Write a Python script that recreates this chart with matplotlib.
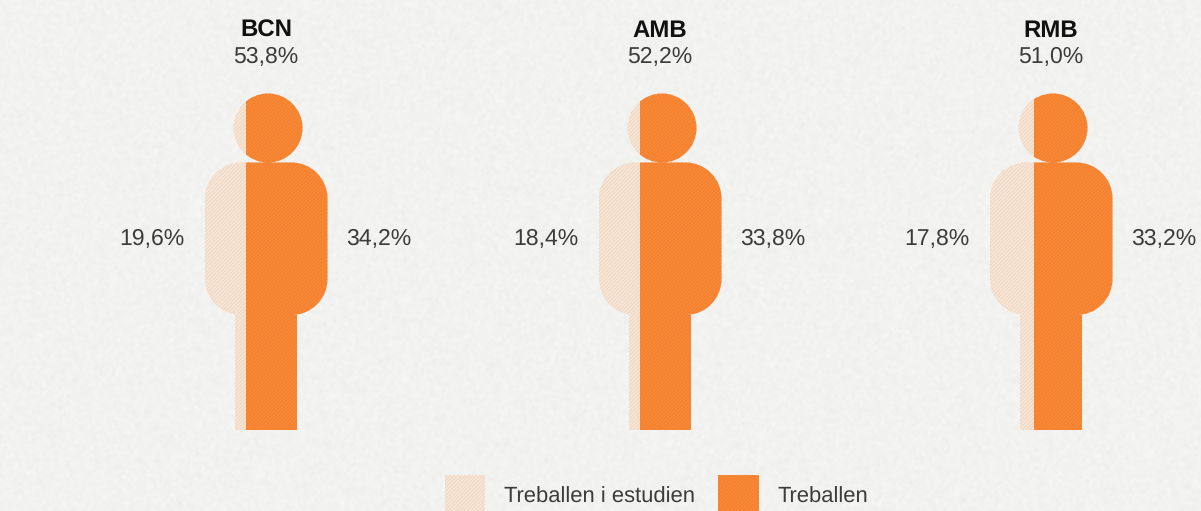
import numpy as np
import matplotlib
matplotlib.use("Agg")
import matplotlib.pyplot as plt
from matplotlib.patches import PathPatch, Rectangle
from matplotlib.path import Path

plt.rcParams['hatch.linewidth'] = 0.5
plt.rcParams['font.family'] = ['Liberation Sans', 'DejaVu Sans']
plt.rcParams['text.hinting'] = 'no_hinting'
plt.rcParams['text.hinting_factor'] = 1

# Data
regions = ['BCN', 'AMB', 'RMB']
total = ['53,8%', '52,2%', '51,0%']
study_work = ['19,6%', '18,4%', '17,8%']
work = ['34,2%', '33,8%', '33,2%']
legend_labels = ['Treballen i estudien', 'Treballen']

# Layout of pictograms (pixels of a 1201x511 canvas)
centers = [268, 662, 1053]
splits = [245.5, 640, 1034]

BG = '#F2F2F0'
ORANGE = '#F5812D'
ORANGE_H = '#F98F45'
PALE = '#F6E6D8'
PALE_H = '#F0CFB2'
TEXT = '#3C3C3C'

fig = plt.figure(figsize=(12.01, 5.11), dpi=100, facecolor=BG)
ax = fig.add_axes([0, 0, 1, 1])
ax.set_xlim(0, 1201)
ax.set_ylim(511, 0)
ax.axis('off')


def paper_texture(w=1201, h=511):
    """Faint paper mottling from a deterministic hash; decoration only."""
    yy, xx = np.mgrid[0:h, 0:w]
    s = np.sin(xx * 12.9898 + yy * 78.233) * 43758.5453
    n = s - np.floor(s) - 0.5
    out = np.zeros_like(n)
    for k, amp in ((1, 4.0), (2, 6.0)):
        b = n.copy()
        for axis in (0, 1):
            b = sum(np.roll(b, d, axis=axis) for d in range(-k, k + 1)) / (2 * k + 1)
        out += amp * b * np.sqrt(2 * k + 1)
    base = np.array([242, 242, 240], dtype=float)
    return np.clip(base[None, None, :] + out[..., None], 0, 255).astype(np.uint8)


ax.imshow(paper_texture(), extent=(0, 1201, 511, 0), aspect='auto', zorder=0,
          interpolation='nearest')
ax.set_xlim(0, 1201)
ax.set_ylim(511, 0)

K = 0.5523


def person(c):
    """Outline of head + body + legs centred on c."""
    v, code = [], []
    cx, cy, r = c, 128, 34.5
    v += [(cx, cy - r),
          (cx + K * r, cy - r), (cx + r, cy - K * r), (cx + r, cy),
          (cx + r, cy + K * r), (cx + K * r, cy + r), (cx, cy + r),
          (cx - K * r, cy + r), (cx - r, cy + K * r), (cx - r, cy),
          (cx - r, cy - K * r), (cx - K * r, cy - r), (cx, cy - r),
          (cx, cy - r)]
    code += [Path.MOVETO] + [Path.CURVE4] * 12 + [Path.CLOSEPOLY]
    L, R, T, B = c - 63, c + 59.5, 162.5, 315
    lL, lR, bot = c - 33, c + 29, 430
    rc = 36
    k = rc * (1 - K)
    v += [(L + rc, T), (R - rc, T),
          (R - k, T), (R, T + k), (R, T + rc),
          (R, B - rc),
          (R, B - k), (R - k, B), (R - rc, B),
          (lR, B), (lR, bot), (lL, bot), (lL, B),
          (L + rc, B),
          (L + k, B), (L, B - k), (L, B - rc),
          (L, T + rc),
          (L, T + k), (L + k, T), (L + rc, T),
          (L + rc, T)]
    code += [Path.MOVETO, Path.LINETO] + [Path.CURVE4] * 3 + [Path.LINETO] + \
            [Path.CURVE4] * 3 + [Path.LINETO] * 5 + [Path.CURVE4] * 3 + \
            [Path.LINETO] + [Path.CURVE4] * 3 + [Path.CLOSEPOLY]
    return Path(v, code)


def hatched_rect(x0, x1, y0, y1, fc, hc, clip=None):
    base = Rectangle((x0, y0), x1 - x0, y1 - y0, fc=fc, ec='none', lw=0, zorder=2)
    hat = Rectangle((x0, y0), x1 - x0, y1 - y0, fc='none', ec=hc, lw=0,
                    hatch='/////////', zorder=3)
    for p in (base, hat):
        ax.add_patch(p)
        if clip is not None:
            p.set_clip_path(clip)


for i, c in enumerate(centers):
    clip = PathPatch(person(c), transform=ax.transData, fc='none', ec='none')
    ax.add_patch(clip)
    hatched_rect(c - 70, splits[i], 85, 435, PALE, PALE_H, clip)
    hatched_rect(splits[i], c + 70, 85, 435, ORANGE, ORANGE_H, clip)

    ax.text(c - 2, 31, regions[i], ha='center', va='center', fontsize=17.5,
            fontweight='bold', color='#111111')
    ax.text(c - 2.5, 57, total[i], ha='center', va='center', fontsize=16.8, color=TEXT)
    ax.text(c - 84, 239, study_work[i], ha='right', va='center', fontsize=16.5, color=TEXT)
    ax.text(c + 78, 239, work[i], ha='left', va='center', fontsize=16.8, color=TEXT)

hatched_rect(445, 485, 475, 511, PALE, PALE_H)
hatched_rect(718, 759, 475, 511, ORANGE, ORANGE_H)
ax.text(504, 497, legend_labels[0], ha='left', va='center', fontsize=15.8, color=TEXT)
ax.text(777, 497, legend_labels[1], ha='left', va='center', fontsize=15.8, color=TEXT)

fig.savefig('out.png', dpi=100, facecolor=BG)
